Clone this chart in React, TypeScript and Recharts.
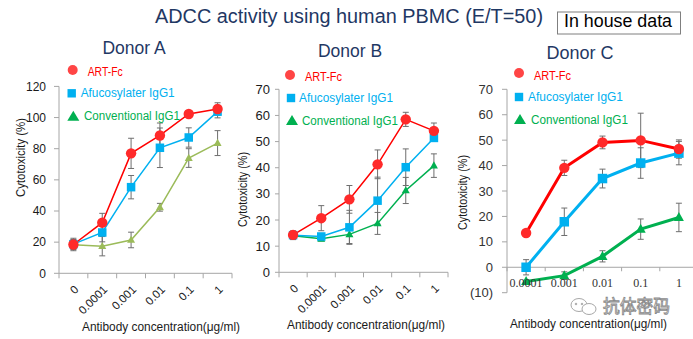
import React from 'react';
import { LineChart, Line, XAxis, YAxis, ErrorBar, ReferenceLine } from 'recharts';

const FONT = '"Liberation Sans", Arial, sans-serif';
const SERIF = '"Liberation Serif", "Times New Roman", serif';
const AXIS = '#A6A6A6';
const ERR = '#6E6E6E';
const RED = '#FF0000';
const RED_DOT = '#FF2A2A';
const BLUE = '#00B0F0';
const GREEN = '#00B050';
const OLIVE = '#9BBB59';
const NAVY = '#1F3864';

// ---------- data ----------
const concAB = ['0', '0.0001', '0.001', '0.01', '0.1', '1'];
const concC = ['0.0001', '0.001', '0.01', '0.1', '1'];

const artA = [18.5, 32.5, 77, 88.5, 102.3, 105.5];
const artAErr = [4, 6, 9.7, 8, 1.2, 4];
const afuA = [18.7, 26.2, 55.3, 80.6, 87.2, 103.8];
const afuAErr = [3, 6, 7.5, 12.7, 6.2, 4];
const conA = [18.3, 17.4, 21.4, 42.4, 74, 83.6];
const conAErr = [3, 6.2, 5, 2.5, 6, 8];

const artB = [14.3, 20.7, 27.9, 41.3, 58.5, 54.1];
const artBErr = [1.5, 4.8, 5.3, 5.5, 2.7, 3];
const afuB = [14.2, 13.7, 17.2, 27.4, 40.2, 51.4];
const afuBErr = [1.5, 1, 6.5, 9, 7, 1];
const conB = [14, 12.8, 14.5, 18.7, 31.3, 40.8];
const conBErr = [1.5, 0.8, 3.5, 4.2, 5, 4.5];

const artC = [13.5, 39.1, 49.1, 49.9, 46.5];
const artCErr = [0, 3, 2.5, 10.7, 3.6];
const afuC = [0, 17.9, 34.9, 41, 44.9];
const afuCErr = [3, 5.4, 3.7, 6, 4.6];
const conC = [-5.6, -3.3, 4.3, 15, 19.6];
const conCErr = [0.5, 1.5, 2.2, 4, 5.6];

const ticksA = [0, 20, 40, 60, 80, 100, 120];
const ticksB = [0, 10, 20, 30, 40, 50, 60, 70];
const ticksC = [-10, 0, 10, 20, 30, 40, 50, 60, 70];

const legendNames = ['ART-Fc', 'Afucosylater IgG1', 'Conventional IgG1'];
const mainTitle = 'ADCC activity using human PBMC (E/T=50)';
const badge = 'In house data';
const donorTitles = ['Donor A', 'Donor B', 'Donor C'];
const yTitle = 'Cytotoxicity (%)';
const xTitle = 'Antibody concentration(μg/ml)';
const watermark = '抗体密码';

function rows(conc: string[], art: number[], artErr: number[], afu: number[], afuErr: number[], con: number[], conErr: number[]) {
  return conc.map((c, i) => ({
    conc: c,
    art: art[i], artErr: artErr[i],
    afu: afu[i], afuErr: afuErr[i],
    con: con[i], conErr: conErr[i],
  }));
}
const dataA = rows(concAB, artA, artAErr, afuA, afuAErr, conA, conAErr);
const dataB = rows(concAB, artB, artBErr, afuB, afuBErr, conB, conBErr);
const dataC = rows(concC, artC, artCErr, afuC, afuCErr, conC, conCErr);

// ---------- layout ----------
const W = 693, H = 339;
const A = { l: 59, r: 232, t: 86.4, b: 273.3 };
const B = { l: 279, r: 448, t: 89.3, b: 272.3 };
const C = { l: 507, r: 698, t: 89.3, b: 292.7 };
const YW = 50;
const XH = 30;
const halfA = (A.r - A.l) / concAB.length / 2;
const halfB = (B.r - B.l) / concAB.length / 2;
const halfC = (C.r - C.l) / concC.length / 2;

// ---------- markers ----------
const squareDot = (color: string, size: number) => (p: any) => {
  const k = `sq-${p.index}`;
  if (p.cx == null || p.cy == null) return <g key={k} />;
  return <rect key={k} x={p.cx - size / 2} y={p.cy - size / 2} width={size} height={size} fill={color} />;
};
const triDot = (color: string, w: number) => (p: any) => {
  const k = `tr-${p.index}`;
  if (p.cx == null || p.cy == null) return <g key={k} />;
  const h = w * 0.9;
  const pts = `${p.cx},${p.cy - h * 0.6} ${p.cx - w / 2},${p.cy + h * 0.4} ${p.cx + w / 2},${p.cy + h * 0.4}`;
  return <polygon key={k} points={pts} fill={color} />;
};

const rotTick = (half: number, last: string) => (p: any) => {
  const { x, y, payload } = p;
  const tx = x + 3, ty = y + 14;
  return (
    <g>
      <line x1={x - half} x2={x - half} y1={y} y2={y + 5} stroke={AXIS} />
      {payload.value === last && <line x1={x + half} x2={x + half} y1={y} y2={y + 5} stroke={AXIS} />}
      <text x={tx} y={ty} dy="0.35em" textAnchor="end" fontSize={11.5} fontFamily={FONT} fill="#1a1a1a"
        transform={`rotate(-45 ${tx} ${ty})`}>{payload.value}</text>
    </g>
  );
};

const zeroOffC = (C.b - C.t) * 10 / 80;
const cTick = (p: any) => {
  const { x, y, payload } = p;
  const zy = y - zeroOffC;
  return (
    <g>
      <line x1={x - halfC} x2={x - halfC} y1={zy} y2={zy + 4} stroke={AXIS} />
      <text x={x} y={zy + 19.5} textAnchor="middle" fontSize={12} fontFamily={SERIF} fill="#333">{payload.value}</text>
    </g>
  );
};

const Abs = ({ children }: any) => (
  <div style={{ position: 'absolute', left: 0, top: 0 }}>{children}</div>
);

export default function App() {
  const sw = 1.5;
  const errProps = { width: 3, stroke: ERR, strokeWidth: 1, isAnimationActive: false } as any;
  return (
    <div style={{ position: 'absolute', left: 0, top: 0, width: W, height: H, overflow: 'hidden', background: '#fff' }}>
      {/* Panel A */}
      <Abs>
        <LineChart width={W} height={H} data={dataA}
          margin={{ top: A.t, left: A.l - YW, right: W - A.r, bottom: H - A.b - XH }}>
          <XAxis dataKey="conc" height={XH} tickSize={0} tickMargin={0} tickLine={false} interval={0}
            padding={{ left: halfA, right: halfA }}
            axisLine={{ stroke: AXIS }} tick={rotTick(halfA, '1')} />
          <YAxis domain={[0, 120]} ticks={ticksA} width={YW} interval={0} tickSize={5} tickMargin={8}
            axisLine={{ stroke: AXIS }} tickLine={{ stroke: AXIS }}
            tick={{ fontSize: 12, fontFamily: FONT, fill: '#1a1a1a' }} />
          <Line dataKey="con" stroke={OLIVE} strokeWidth={sw} isAnimationActive={false} dot={triDot(OLIVE, 8)}>
            <ErrorBar dataKey="conErr" {...errProps} />
          </Line>
          <Line dataKey="afu" stroke={BLUE} strokeWidth={sw} isAnimationActive={false} dot={squareDot(BLUE, 8.5)}>
            <ErrorBar dataKey="afuErr" {...errProps} />
          </Line>
          <Line dataKey="art" stroke={RED} strokeWidth={sw} isAnimationActive={false}
            dot={{ r: 5.2, fill: RED_DOT, stroke: RED_DOT, strokeWidth: 0 }}>
            <ErrorBar dataKey="artErr" {...errProps} />
          </Line>
        </LineChart>
      </Abs>
      {/* Panel B */}
      <Abs>
        <LineChart width={W} height={H} data={dataB}
          margin={{ top: B.t, left: B.l - YW, right: W - B.r, bottom: H - B.b - XH }}>
          <XAxis dataKey="conc" height={XH} tickSize={0} tickMargin={0} tickLine={false} interval={0}
            padding={{ left: halfB, right: halfB }}
            axisLine={{ stroke: AXIS }} tick={rotTick(halfB, '1')} />
          <YAxis domain={[0, 70]} ticks={ticksB} width={YW} interval={0} tickSize={4} tickMargin={5}
            axisLine={{ stroke: AXIS }} tickLine={{ stroke: AXIS }}
            tick={{ fontSize: 13, fontFamily: FONT, fill: '#1a1a1a' }} />
          <Line dataKey="con" stroke={GREEN} strokeWidth={sw} isAnimationActive={false} dot={triDot(GREEN, 8)}>
            <ErrorBar dataKey="conErr" {...errProps} />
          </Line>
          <Line dataKey="afu" stroke={BLUE} strokeWidth={sw} isAnimationActive={false} dot={squareDot(BLUE, 8.5)}>
            <ErrorBar dataKey="afuErr" {...errProps} />
          </Line>
          <Line dataKey="art" stroke={RED} strokeWidth={sw} isAnimationActive={false}
            dot={{ r: 5.2, fill: RED_DOT, stroke: RED_DOT, strokeWidth: 0 }}>
            <ErrorBar dataKey="artErr" {...errProps} />
          </Line>
        </LineChart>
      </Abs>
      {/* Panel C */}
      <Abs>
        <LineChart width={700} height={H} data={dataC}
          margin={{ top: C.t, left: C.l - YW, right: 700 - C.r, bottom: H - C.b - XH }}>
          <XAxis dataKey="conc" height={XH} tickSize={0} tickMargin={0} tickLine={false} interval={0}
            padding={{ left: halfC, right: halfC }}
            axisLine={false} tick={cTick} />
          <YAxis domain={[-10, 70]} ticks={ticksC} width={YW} interval={0} tickSize={5} tickMargin={9}
            axisLine={{ stroke: AXIS }} tickLine={{ stroke: AXIS }}
            tickFormatter={(v: number) => (v < 0 ? `(${-v})` : `${v}`)}
            tick={{ fontSize: 13, fontFamily: FONT, fill: '#333' }} />
          <ReferenceLine y={0} stroke={AXIS} strokeWidth={1} />
          <Line dataKey="con" stroke={GREEN} strokeWidth={3} isAnimationActive={false} dot={triDot(GREEN, 10)}>
            <ErrorBar dataKey="conErr" {...errProps} />
          </Line>
          <Line dataKey="afu" stroke={BLUE} strokeWidth={3} isAnimationActive={false} dot={squareDot(BLUE, 9.5)}>
            <ErrorBar dataKey="afuErr" {...errProps} />
          </Line>
          <Line dataKey="art" stroke={RED} strokeWidth={3} isAnimationActive={false}
            dot={{ r: 5.2, fill: RED_DOT, stroke: RED_DOT, strokeWidth: 0 }}>
            <ErrorBar dataKey="artErr" {...errProps} />
          </Line>
        </LineChart>
      </Abs>
      {/* Overlay text */}
      <Abs>
        <svg width={W} height={H} style={{ display: 'block' }}>
          <text x={155} y={23} fontSize={20} fontFamily={FONT} fill={NAVY} textLength={388} lengthAdjust="spacingAndGlyphs">{mainTitle}</text>
          <rect x={557.5} y={12} width={123} height={22} fill="#fff" stroke="#7F7F7F" strokeWidth={1} />
          <text x={564} y={27} fontSize={17.5} fontFamily={FONT} fill="#000" textLength={108} lengthAdjust="spacingAndGlyphs">{badge}</text>

          <text x={134} y={54} fontSize={17.5} fontFamily={FONT} fill={NAVY} textAnchor="middle">{donorTitles[0]}</text>
          <text x={350} y={57} fontSize={17.5} fontFamily={FONT} fill={NAVY} textAnchor="middle">{donorTitles[1]}</text>
          <text x={580} y={59} fontSize={18} fontFamily={FONT} fill={NAVY} textAnchor="middle">{donorTitles[2]}</text>

          {[[21, 157.5, 79], [243, 189.5, 75], [463, 192.5, 75]].map(([x, y, len], i) => (
            <text key={`yl${i}`} x={x} y={y} dy="0.35em" fontSize={12.5} fontFamily={FONT} fill="#1a1a1a"
              textAnchor="middle" textLength={len} lengthAdjust="spacingAndGlyphs"
              transform={`rotate(-90 ${x} ${y})`}>{yTitle}</text>
          ))}
          {[[82, 330.5, 158], [287, 329, 158], [510, 327.5, 157]].map(([x, y, len], i) => (
            <text key={`xl${i}`} x={x} y={y} fontSize={12.5} fontFamily={FONT} fill="#1a1a1a"
              textLength={len} lengthAdjust="spacingAndGlyphs">{xTitle}</text>
          ))}

          {/* legends */}
          {[
            { c: [72.7, 70], s: [71.7, 93.3], t: [73.3, 116.7], tx: [87.7, 80.7, 84], ty: [71.7, 93, 116], tl: [35, 94, 96] },
            { c: [290, 75], s: [291, 98], t: [292, 121], tx: [305, 299, 302], ty: [77, 98, 121], tl: [37, 94, 96] },
            { c: [519, 73], s: [519, 97], t: [520, 120], tx: [534, 528, 531], ty: [76, 97, 120], tl: [37, 95, 97] },
          ].map((L, i) => (
            <g key={`lg${i}`}>
              <circle cx={L.c[0]} cy={L.c[1]} r={5} fill="#FF4545" />
              <rect x={L.s[0] - 4.2} y={L.s[1] - 4.2} width={8.4} height={8.4} fill={BLUE} />
              <polygon points={`${L.t[0]},${L.t[1] - 6} ${L.t[0] - 6},${L.t[1] + 4} ${L.t[0] + 6},${L.t[1] + 4}`} fill={GREEN} />
              {[RED, BLUE, GREEN].map((col, j) => (
                <text key={j} x={L.tx[j]} y={L.ty[j]} dy="0.35em" fontSize={12} fontFamily={FONT} fill={col}
                  textLength={L.tl[j]} lengthAdjust="spacingAndGlyphs">{legendNames[j]}</text>
              ))}
            </g>
          ))}

          {/* watermark */}
          <g stroke="#A8A8A8" strokeWidth={1} fill="none">
            <ellipse cx={579} cy={305} rx={8} ry={6.5} />
            <ellipse cx={589} cy={309} rx={7} ry={5.5} fill="#fff" />
            <circle cx={576} cy={304} r={0.8} fill="#A8A8A8" />
            <circle cx={582} cy={304} r={0.8} fill="#A8A8A8" />
          </g>
          <text x={603} y={313} fontSize={18} fontFamily='"Noto Sans CJK SC", sans-serif' fill="#fff"
            stroke="#8A8A8A" strokeWidth={0.9} textLength={67} lengthAdjust="spacingAndGlyphs">{watermark}</text>
        </svg>
      </Abs>
    </div>
  );
}
